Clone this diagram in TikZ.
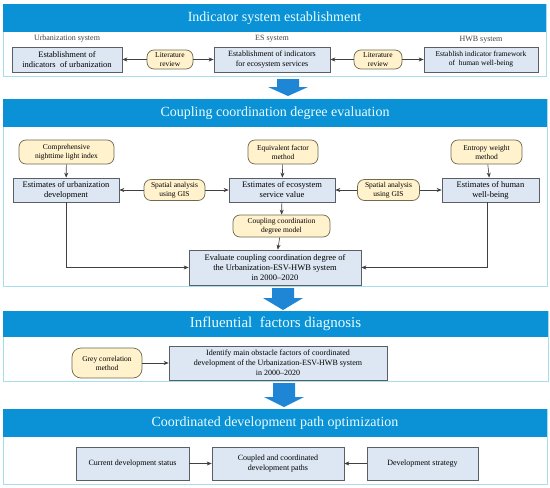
\documentclass[tikz,border=0pt]{standalone}
\usepackage{fontspec}
\setmainfont{Liberation Serif}
\usetikzlibrary{arrows.meta}

\definecolor{headblue}{HTML}{0A91D6}
\definecolor{panelline}{HTML}{A8DDEE}
\definecolor{boxfill}{HTML}{DDE7F3}
\definecolor{boxline}{HTML}{5A5F66}
\definecolor{pillfill}{HTML}{FFF2CC}
\definecolor{pillline}{HTML}{6E6A4E}
\definecolor{titletext}{HTML}{E8FFFF}
\definecolor{arrowblue}{HTML}{1F86D6}

% block arrow between two stages: x, top, start of head, tip
\newcommand{\stagearrow}[4]{\fill[arrowblue] (#1-11,#2) -- (#1+11,#2) -- (#1+11,#3) -- (#1+20,#3) -- (#1,#4) -- (#1-20,#3) -- (#1-11,#3) -- cycle;}

\begin{document}
\begin{tikzpicture}[x=1pt, y=-1pt,
        panel/.style={draw=panelline, line width=0.9pt, fill=white},
        header/.style={fill=headblue},
        title/.style={text=titletext, font=\fontsize{14}{16}\selectfont},
        sysbox/.style={draw=boxline, fill=boxfill, line width=0.7pt, align=center, inner sep=1pt, font=\fontsize{8.5}{10}\selectfont},
        smallbox/.style={sysbox, font=\fontsize{7.5}{9}\selectfont},
        pill/.style={draw=pillline, fill=pillfill, line width=0.7pt, rounded corners=7pt, align=center, inner sep=1pt, font=\fontsize{7.5}{9}\selectfont},
        syslabel/.style={text=black!75, font=\fontsize{8}{9}\selectfont},
        link/.style={-{Stealth[length=5pt,width=4pt]}, black!75, line width=0.6pt}]
        \useasboundingbox (0,0) rectangle (550,488);

        % stage 1
        \draw[panel] (3,4) rectangle (546,76);
        \fill[header] (3,4) rectangle (546,32);
        \node[title] (t1) at (274.5,18) {Indicator system establishment};
        \node[syslabel] (urbL) at (67,39) {Urbanization system};
        \node[syslabel] (esL) at (272,39) {ES system};
        \node[syslabel] (hwbL) at (481,40) {HWB system};
        \node[sysbox, minimum width=110, minimum height=25] (urbI) at (67,59.5) {Establishment of\\indicators~ of urbanization};
        \node[pill, minimum width=46, minimum height=19] (lit1) at (170,59.5) {Literature\\review};
        \node[sysbox, minimum width=116, minimum height=25, font=\fontsize{8}{9.5}\selectfont] (esI) at (272,59.5) {Establishment of indicators\\for ecosystem services};
        \node[pill, minimum width=48, minimum height=19] (lit2) at (378,59.5) {Literature\\review};
        \node[smallbox, minimum width=114, minimum height=25] (hwbI) at (481,59.5) {Establish indicator framework\\of~ human well-being};
        \path[link] (lit1) edge (urbI) (lit1) edge (esI);
        \path[link] (lit2) edge (esI) (lit2) edge (hwbI);

        \stagearrow{288}{79}{87}{96}

        % stage 2
        \draw[panel] (3,99) rectangle (547,286);
        \fill[header] (3,99) rectangle (547,127);
        \node[title] (t2) at (275,113) {Coupling coordination degree evaluation};
        \node[pill, minimum width=95, minimum height=24] (ntl) at (66.5,152) {Comprehensive\\nighttime light index};
        \node[pill, minimum width=70, minimum height=24] (eqf) at (283,152) {Equivalent factor\\method};
        \node[pill, minimum width=71, minimum height=24] (ewm) at (486.5,152) {Entropy weight\\method};
        \node[sysbox, minimum width=106, minimum height=24] (urbE) at (66,190) {Estimates of urbanization\\development};
        \node[pill, minimum width=61, minimum height=21] (gis1) at (174.5,190) {Spatial analysis\\using GIS};
        \node[sysbox, minimum width=106, minimum height=24] (esvE) at (282,190) {Estimates of ecosystem\\service value};
        \node[pill, minimum width=62, minimum height=21] (gis2) at (388.5,190) {Spatial analysis\\using GIS};
        \node[sysbox, minimum width=97, minimum height=24] (hwbE) at (490.5,190) {Estimates of human\\well-being};
        \node[pill, minimum width=97, minimum height=22] (ccdm) at (281.5,226) {Coupling coordination\\degree model};
        \node[sysbox, minimum width=172, minimum height=35] (eval) at (275,267.5) {Evaluate coupling coordination degree of\\the Urbanization-ESV-HWB system\\in 2000--2020};
        \path[link] (ntl) edge (urbE) (eqf) edge (esvE) (ewm) edge (hwbE);
        \path[link] (gis1) edge (urbE) (gis1) edge (esvE);
        \path[link] (gis2) edge (esvE) (gis2) edge (hwbE);
        \path[link] (esvE) edge (ccdm) (ccdm) edge (eval);
        \draw[link] (urbE) |- (eval);
        \draw[link] (hwbE.south -| 487,0) |- (eval);

        \stagearrow{283}{288}{298}{310}

        % stage 3
        \draw[panel] (3,311) rectangle (548,381);
        \fill[header] (3,311) rectangle (548,337);
        \node[title, font=\fontsize{15}{17}\selectfont] (t3) at (275.5,324) {Influential~ factors diagnosis};
        \node[pill, minimum width=70, minimum height=30, rounded corners=9pt] (grey) at (107,363) {Grey correlation\\method};
        \node[sysbox, minimum width=218, minimum height=34, font=\fontsize{8}{10}\selectfont] (obst) at (278,363) {Identify main obstacle factors of coordinated\\development of the Urbanization-ESV-HWB system\\in 2000--2020};
        \path[link] (grey) edge (obst);

        \stagearrow{284}{383}{397}{407}

        % stage 4
        \draw[panel] (3,409) rectangle (547,484);
        \fill[header] (3,409) rectangle (547,437);
        \node[title] (t4) at (275,423) {Coordinated development path optimization};
        \node[sysbox, minimum width=113, minimum height=33, font=\fontsize{8}{10}\selectfont] (cur) at (132.5,463.5) {Current development status};
        \node[sysbox, minimum width=132, minimum height=33, font=\fontsize{8}{10}\selectfont] (paths) at (278,463.5) {Coupled and coordinated\\development paths};
        \node[sysbox, minimum width=111, minimum height=33, font=\fontsize{8}{10}\selectfont] (strat) at (422.5,463.5) {Development strategy};
        \path[link] (cur) edge (paths) (strat) edge (paths);
\end{tikzpicture}
\end{document}
